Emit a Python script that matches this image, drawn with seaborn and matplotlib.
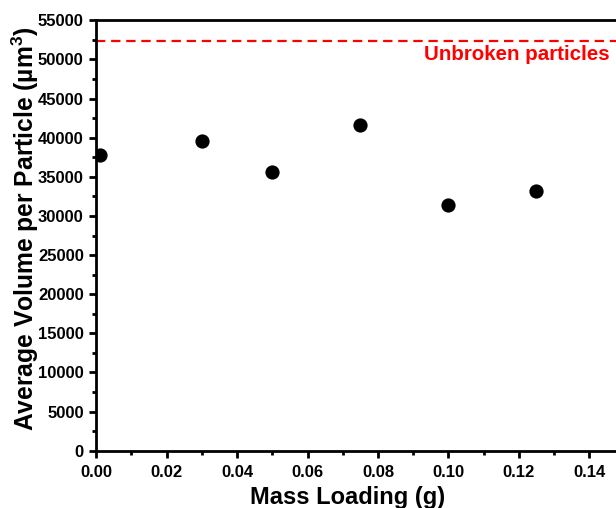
# for plotting graphs
import matplotlib
matplotlib.use('Agg')
import matplotlib.pyplot as plt
from matplotlib.ticker import MultipleLocator

# advance plotting
import seaborn as sns
import pandas as pd

# data
mass_loading = [0.001, 0.03, 0.05, 0.075, 0.10, 0.125]
avg_volume = [37830, 39620, 35660, 41630, 31350, 33140]
unbroken_volume = 52400
unbroken_label = 'Unbroken particles'

df = pd.DataFrame({'mass': mass_loading, 'volume': avg_volume})

sns.set_style('ticks')
plt.rcParams['font.family'] = ['Liberation Sans', 'DejaVu Sans']
plt.rcParams['font.weight'] = 'bold'
plt.rcParams['mathtext.fontset'] = 'custom'
plt.rcParams['mathtext.bf'] = 'Liberation Sans:bold'
plt.rcParams['mathtext.rm'] = 'Liberation Sans:bold'
# seaborn greys the text, the original is pure black
for key in ['text.color', 'axes.labelcolor', 'xtick.color', 'ytick.color',
            'xtick.labelcolor', 'ytick.labelcolor', 'axes.edgecolor']:
    plt.rcParams[key] = 'black'

fig = plt.figure(figsize=(6.16, 5.08), dpi=100)
ax = fig.add_axes([0.1563, 0.1128, 1.0 - 0.1563, 0.960 - 0.1128])

sns.scatterplot(data=df, x='mass', y='volume', s=105, color='black',
                edgecolor='black', linewidth=0, ax=ax, zorder=3)

# reference line for the unbroken particles
ax.axhline(unbroken_volume, color='red', lw=1.6, ls=(0, (4.2, 2.6)), zorder=2)
ax.text(0.1459, unbroken_volume - 2500, unbroken_label, color='red',
        fontsize=14.8, fontweight='bold', ha='right', va='baseline')

ax.set_xlim(0, 0.1476)
ax.set_ylim(0, 55000)
ax.xaxis.set_major_locator(MultipleLocator(0.02))
ax.xaxis.set_minor_locator(MultipleLocator(0.01))
ax.yaxis.set_major_locator(MultipleLocator(5000))
ax.yaxis.set_minor_locator(MultipleLocator(2500))
ax.xaxis.set_major_formatter(plt.FormatStrFormatter('%.2f'))

ax.set_xlabel('Mass Loading (g)', fontsize=17, fontweight='bold', color='black')
ax.set_ylabel(r'Average Volume per Particle (µm$^{\mathbf{3}}$)', fontsize=17.7,
              fontweight='bold', color='black')
ax.xaxis.set_label_coords(0.483, -0.083)
ax.yaxis.set_label_coords(-0.106, 0.515)

for side in ['left', 'bottom', 'top']:
    ax.spines[side].set_linewidth(2.0)
    ax.spines[side].set_color('black')
ax.spines['right'].set_visible(False)

ax.tick_params(axis='both', which='major', length=5, width=2.0,
               labelsize=12, direction='out', pad=4, color='black',
               labelcolor='black')
ax.tick_params(axis='x', which='major', pad=5)
ax.tick_params(axis='both', which='minor', length=3, width=2.0,
               direction='out', color='black')
for lab in ax.get_xticklabels() + ax.get_yticklabels():
    lab.set_fontweight('bold')

fig.savefig('out.png', dpi=100)
